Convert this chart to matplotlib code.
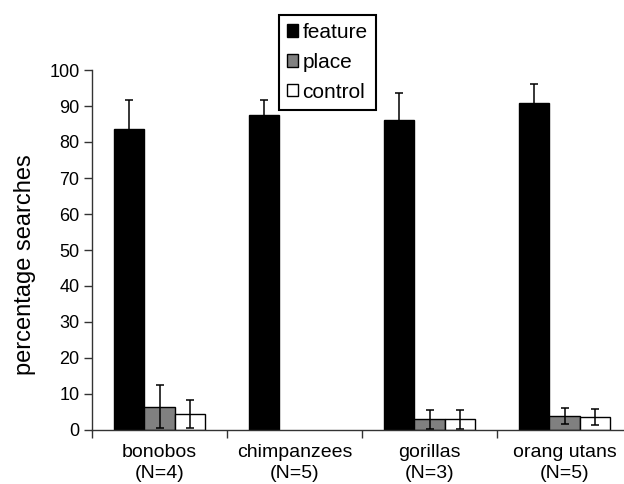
import matplotlib
matplotlib.use("Agg")
import matplotlib.pyplot as plt
import numpy as np

plt.rcParams['font.family'] = ['Liberation Sans', 'DejaVu Sans']

groups = ["bonobos\n(N=4)", "chimpanzees\n(N=5)", "gorillas\n(N=3)", "orang utans\n(N=5)"]
series = ["feature", "place", "control"]
feature = [83.5, 87.4, 86.1, 90.9]
feature_err = [8.3, 4.4, 7.5, 5.2]
place = [6.5, 0.0, 3.0, 3.9]
place_err = [6.0, 0.0, 2.6, 2.2]
control = [4.4, 0.0, 3.0, 3.7]
control_err = [3.9, 0.0, 2.6, 2.2]
colors = ["black", "#808080", "white"]

fig = plt.figure(figsize=(6.24, 4.84), dpi=100)
ax = fig.add_axes([92/624, 1-430/484, 540/624, 360/484])

x = np.arange(len(groups))
w = 0.224
vals = [feature, place, control]
errs = [feature_err, place_err, control_err]
for i, (v, e, c, lab) in enumerate(zip(vals, errs, colors, series)):
    pos = x + (i - 1) * w
    v = np.array(v)
    e = np.array(e)
    mask = v > 0
    ax.bar(pos[mask], v[mask], w, color=c, edgecolor='black', linewidth=1.0, label=lab, zorder=2)
    ax.errorbar(pos[mask], v[mask], yerr=e[mask], fmt='none', ecolor='black',
                elinewidth=1.1, capsize=3, capthick=1.1, zorder=3)

ax.set_xlim(-0.5, 3.5)
ax.set_ylim(0, 100)
ax.set_yticks(range(0, 101, 10))
ax.set_xticks(np.arange(-0.5, 3.6, 1.0))
ax.set_xticklabels([])
ax.set_xticks(x, minor=True)
ax.set_xticklabels(groups, minor=True, fontsize=14, linespacing=1.3)
ax.tick_params(axis='x', which='minor', length=0, pad=10)
ax.tick_params(axis='x', which='major', direction='out', length=6, width=1, color='#333333')
ax.tick_params(axis='y', direction='out', length=6, width=1, labelsize=13, color='#333333', pad=3)
for s in ['top', 'right']:
    ax.spines[s].set_visible(False)
for s in ['left', 'bottom']:
    ax.spines[s].set_linewidth(1.0)
    ax.spines[s].set_color('#333333')
ax.spines['bottom'].set_zorder(4)
ax.set_ylabel("percentage searches", fontsize=17)
ax.yaxis.set_label_coords(-0.103, 0.46)

handles, labels = ax.get_legend_handles_labels()
leg = ax.legend(handles, labels, loc='upper left', bbox_to_anchor=(279/624, 1-15/484),
                bbox_transform=fig.transFigure, borderaxespad=0, fontsize=15,
                frameon=True, fancybox=False, edgecolor='black', framealpha=1,
                handlelength=0.55, handleheight=0.55, handletextpad=0.2,
                labelspacing=0.52, borderpad=0.38)
leg.get_frame().set_linewidth(1.5)

fig.savefig("out.png", dpi=100)
